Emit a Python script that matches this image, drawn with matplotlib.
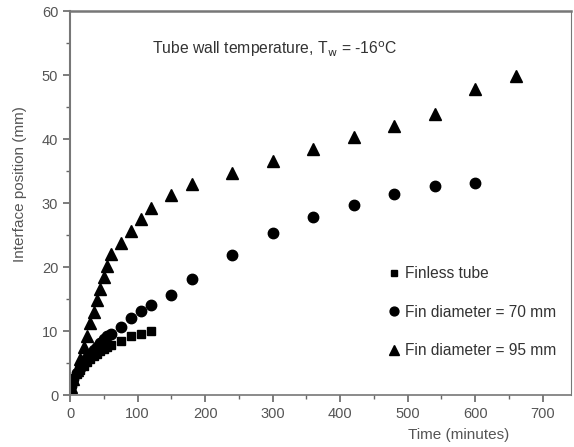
import numpy as np
import matplotlib.pyplot as plt
from matplotlib.ticker import MultipleLocator

plt.rcParams['font.family'] = ['Liberation Sans', 'DejaVu Sans']

# finless tube
t_sq = [2, 5, 10, 15, 20, 25, 30, 35, 40, 45, 50, 55, 60, 75, 90, 105, 120]
y_sq = [1.2, 2.3, 3.3, 4.0, 4.6, 5.2, 5.7, 6.1, 6.5, 6.9, 7.2, 7.5, 7.9, 8.4, 9.2, 9.6, 10.1]

# fin diameter = 70 mm
t_ci = [2, 5, 10, 15, 20, 25, 30, 35, 40, 45, 50, 55, 60, 75, 90, 105, 120,
        150, 180, 240, 300, 360, 420, 480, 540, 600]
y_ci = [1.4, 2.5, 3.5, 4.3, 5.1, 5.8, 6.4, 7.0, 7.6, 8.2, 8.7, 9.2, 9.6, 10.7, 12.1, 13.2, 14.1,
        15.7, 18.1, 21.9, 25.3, 27.8, 29.7, 31.4, 32.7, 33.2]

# fin diameter = 95 mm
t_tr = [2, 5, 10, 15, 20, 25, 30, 35, 40, 45, 50, 55, 60, 75, 90, 105, 120,
        150, 180, 240, 300, 360, 420, 480, 540, 600, 660]
y_tr = [1.2, 2.5, 4.0, 5.6, 7.5, 9.3, 11.2, 13.0, 14.8, 16.6, 18.4, 20.2, 22.0, 23.8, 25.6, 27.5, 29.3,
        31.2, 33.0, 34.7, 36.6, 38.5, 40.3, 42.1, 43.9, 47.9, 49.9]

fig = plt.figure(figsize=(5.74, 4.47), dpi=100)
ax = fig.add_axes([0.122, 0.116, 0.873, 0.859])

ax.plot(t_sq, y_sq, 's', color='black', ms=5.5, label='Finless tube')
ax.plot(t_ci, y_ci, 'o', color='black', ms=7.5, label='Fin diameter = 70 mm')
ax.plot(t_tr, y_tr, '^', color='black', ms=8.5, label='Fin diameter = 95 mm')

ax.set_xlim(0, 742)
ax.set_ylim(0, 60)
ax.xaxis.set_major_locator(MultipleLocator(100))
ax.xaxis.set_minor_locator(MultipleLocator(50))
ax.yaxis.set_major_locator(MultipleLocator(10))
ax.yaxis.set_minor_locator(MultipleLocator(5))

grey = '#555555'
for side in ['left', 'bottom', 'top', 'right']:
    ax.spines[side].set_color('#777777')
ax.spines['left'].set_linewidth(1.5)
ax.spines['bottom'].set_linewidth(1.2)
ax.spines['top'].set_linewidth(1.8)
ax.spines['right'].set_linewidth(0.8)
ax.tick_params(which='major', direction='out', length=5, width=1.2, color='#666666',
               labelsize=10.5, labelcolor=grey)
ax.tick_params(which='minor', direction='out', length=3, width=1, color='#666666')

ax.set_xlabel('Time (minutes)', fontsize=11, color=grey)
ax.xaxis.set_label_coords(0.775, -0.085)
ax.set_ylabel('Interface position (mm)', fontsize=11, color=grey)
ax.yaxis.set_label_coords(-0.085, 0.55)

ax.text(122, 54, r'Tube wall temperature, T$_{\rm w}$ = -16$^{\rm o}$C',
        fontsize=11.3, color='#333333', va='center')

ax.legend(loc='lower left', bbox_to_anchor=(0.60, 0.06), frameon=False,
          fontsize=11.2, handletextpad=0.1, labelspacing=1.5, handlelength=1.2,
          markerscale=0.85, labelcolor='#333333')

fig.savefig('out.png', dpi=100)
